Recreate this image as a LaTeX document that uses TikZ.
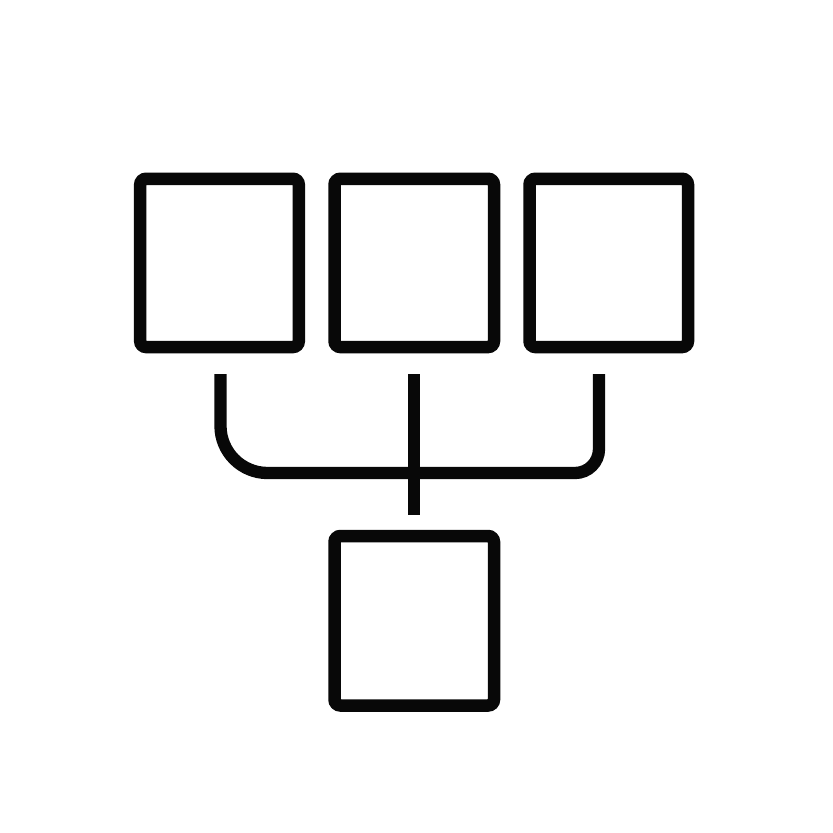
\documentclass[tikz,border=0pt]{standalone}
\begin{document}
\begin{tikzpicture}[x=1pt,y=-1pt,
  box/.style={draw=black!97, line width=12.5pt, rounded corners=6pt, fill=white, inner sep=0pt, outer sep=0pt},
  link/.style={draw=black!97, line width=12.3pt, line cap=butt}]
\useasboundingbox[fill=white] (0,0) rectangle (833,833);
\node[box, minimum width=158.6pt, minimum height=168.3pt] (b1) at (219.5,262.9) {};
\node[box, minimum width=159.5pt, minimum height=168.3pt] (b2) at (414.25,262.9) {};
\node[box, minimum width=158.5pt, minimum height=168.3pt] (b3) at (608.75,262.9) {};
\node[box, minimum width=159.5pt, minimum height=169.5pt] (b4) at (414.25,620.75) {};
\coordinate (l0) at (220.5,374);
\coordinate (l1) at (220.5,473);
\coordinate (m0) at (414,374);
\coordinate (m1) at (414,473);
\coordinate (m2) at (414,515);
\coordinate (r0) at (599,374);
\coordinate (r1) at (599,473);
\draw[link, rounded corners=47pt] (l0) -- (l1) -- (m1);
\draw[link, rounded corners=24pt] (m1) -- (r1) -- (r0);
\draw[link] (m0) -- (m2);
\end{tikzpicture}
\end{document}
